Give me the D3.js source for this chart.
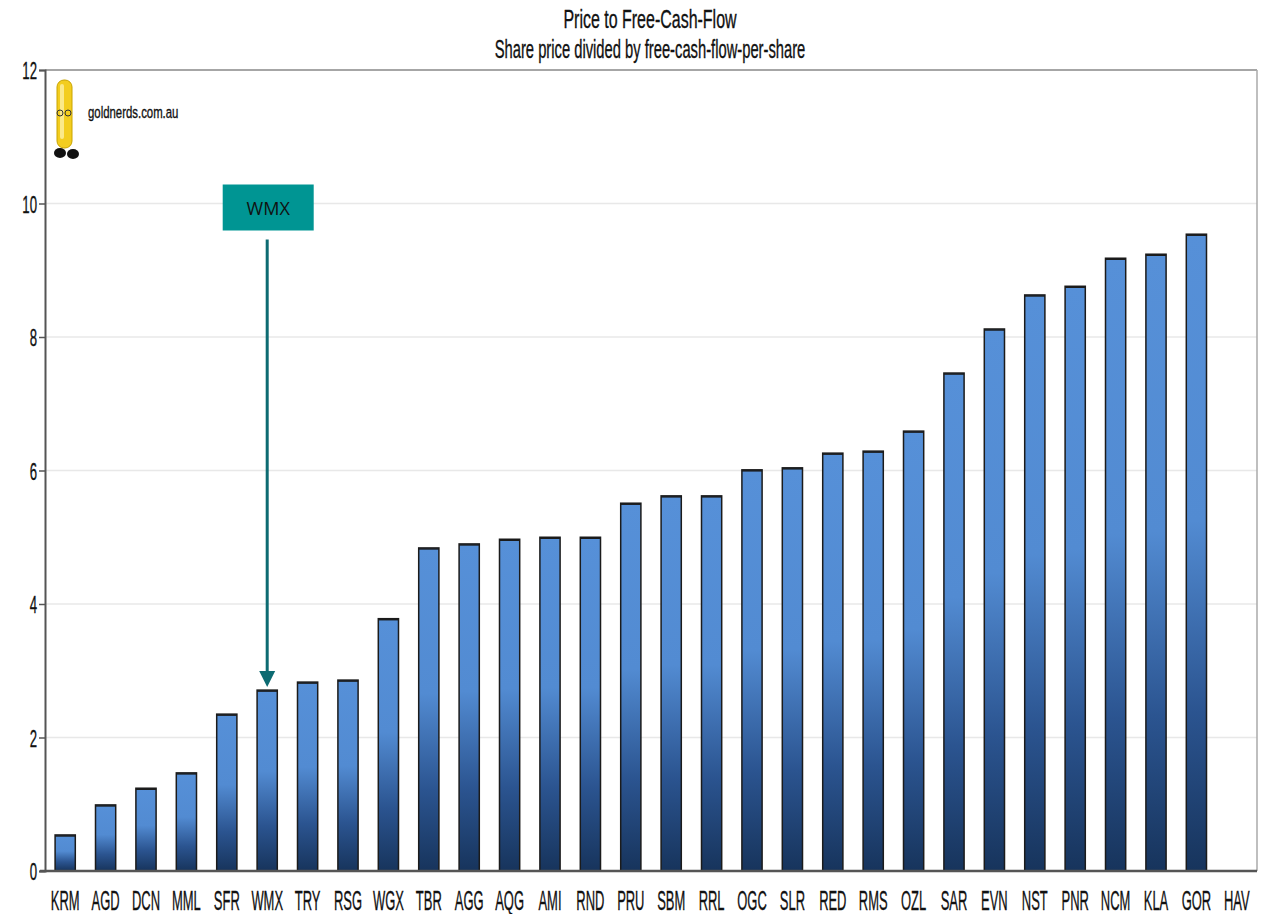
<!DOCTYPE html>
<html>
<head>
<meta charset="utf-8">
<script src="https://cdn.jsdelivr.net/npm/d3@7"></script>
<style>
  body { margin: 0; background: #fff; }
  text { font-family: "Liberation Sans", Arial, sans-serif; }
</style>
</head>
<body>
<div id="chart"></div>
<script>
var tickers = ["KRM","AGD","DCN","MML","SFR","WMX","TRY","RSG","WGX","TBR","AGG","AQG","AMI","RND","PRU",
               "SBM","RRL","OGC","SLR","RED","RMS","OZL","SAR","EVN","NST","PNR","NCM","KLA","GOR","HAV"];
var pfcf = [0.54,0.99,1.24,1.47,2.35,2.71,2.83,2.86,3.78,4.84,4.90,4.97,5.00,5.00,5.51,
            5.62,5.62,6.01,6.04,6.26,6.29,6.59,7.46,8.12,8.63,8.76,9.18,9.24,9.54,0];
var yTicks = [0,2,4,6,8,10,12];
var highlight = "WMX";

var W = 1266, H = 914;
var margin = {top: 70, right: 9, bottom: 43, left: 45};
var width = W - margin.left - margin.right,
    height = H - margin.top - margin.bottom;

var svg = d3.select("#chart").append("svg")
    .attr("width", W).attr("height", H);

var defs = svg.append("defs");
var grad = defs.append("linearGradient").attr("id","barGrad")
    .attr("x1",0).attr("y1",0).attr("x2",0).attr("y2",1);
grad.append("stop").attr("offset","0%").attr("stop-color","#5690d8");
grad.append("stop").attr("offset","45%").attr("stop-color","#528bd2");
grad.append("stop").attr("offset","75%").attr("stop-color","#2b5490");
grad.append("stop").attr("offset","100%").attr("stop-color","#17345c");

// tall, squeezed text to mimic the stretched Arial Narrow of the original
function narrowText(parent, x0, y0, str, size, squeeze, anchor) {
  return parent.append("g").attr("transform","translate(" + x0 + "," + y0 + ") scale(" + squeeze + ",1)")
    .append("text").attr("text-anchor", anchor || "middle")
    .style("font-size", size + "px")
    .style("fill","#111").style("stroke","#111").style("stroke-width",0.35)
    .text(str);
}

// title
narrowText(svg, 650, 28, "Price to Free-Cash-Flow", 25, 0.64);
narrowText(svg, 650, 58, "Share price divided  by free-cash-flow-per-share", 25, 0.59);

var g = svg.append("g").attr("transform","translate(" + margin.left + "," + margin.top + ")");

var x = d3.scaleBand().domain(tickers).range([0, width]).paddingInner(0.5).paddingOuter(0.25);
var y = d3.scaleLinear().domain([0, 12]).range([height, 0]);

// grid
g.selectAll(".grid").data(yTicks.filter(function(d){ return d > 0 && d < 12; }))
  .enter().append("line")
    .attr("x1", 0).attr("x2", width)
    .attr("y1", function(d){ return y(d); }).attr("y2", function(d){ return y(d); })
    .style("stroke","#e8e8e8").style("stroke-width",1.5);

// frame
g.append("line").attr("x1",0).attr("x2",width).attr("y1",0).attr("y2",0)
    .style("stroke","#888").style("stroke-width",1.5);
g.append("line").attr("x1",width).attr("x2",width).attr("y1",0).attr("y2",height)
    .style("stroke","#aaa").style("stroke-width",1.5);

// bars
g.selectAll(".bar").data(tickers)
  .enter().append("rect")
    .attr("x", function(d){ return x(d); })
    .attr("y", function(d,i){ return y(pfcf[i]); })
    .attr("width", x.bandwidth())
    .attr("height", function(d,i){ return height - y(pfcf[i]); })
    .style("fill","url(#barGrad)")
    .style("stroke","#1b1b1b").style("stroke-width",1.5)
    .style("display", function(d,i){ return pfcf[i] > 0 ? null : "none"; });

// bar top edge a bit heavier
g.selectAll(".bartop").data(tickers.filter(function(d,i){ return pfcf[i] > 0; }))
  .enter().append("line")
    .attr("x1", function(d){ return x(d); })
    .attr("x2", function(d){ return x(d) + x.bandwidth(); })
    .attr("y1", function(d){ return y(pfcf[tickers.indexOf(d)]) + 1; })
    .attr("y2", function(d){ return y(pfcf[tickers.indexOf(d)]) + 1; })
    .style("stroke","#1b1b1b").style("stroke-width",1.5);

// y axis
var yAxis = d3.axisLeft(y).tickValues(yTicks).tickSize(6).tickPadding(8);
var ya = g.append("g").call(yAxis);
ya.select(".domain").style("stroke","#555").style("stroke-width",2);
ya.selectAll(".tick line").style("stroke","#555").style("stroke-width",1.5);
ya.selectAll("text").attr("x", null).attr("dy", "0.36em").attr("text-anchor","end")
   .attr("transform","translate(-8,0) scale(0.55,1)")
   .style("font-size","24px").style("fill","#111")
   .style("stroke","#111").style("stroke-width",0.35);

// x axis
var xAxis = d3.axisBottom(x).tickSize(0);
var xa = g.append("g").attr("transform","translate(0," + height + ")").call(xAxis);
xa.select(".domain").remove();
xa.selectAll("text").attr("y", 39).attr("dy", null)
   .attr("transform","scale(0.48,1)")
   .style("font-size","27px").style("fill","#111")
   .style("stroke","#111").style("stroke-width",0.35);
g.append("line").attr("x1",-5).attr("x2",width).attr("y1",height).attr("y2",height)
    .style("stroke","#555").style("stroke-width",2.5);

// WMX callout
var hi = tickers.indexOf(highlight);
var cx = x(highlight) + x.bandwidth() / 2;
var boxW = 91, boxH = 46, boxTop = y(10) - 19;
g.append("rect").attr("x", cx - boxW/2 + 1).attr("y", boxTop)
    .attr("width", boxW).attr("height", boxH).style("fill","#009593");
g.append("text").attr("x", cx + 1).attr("y", boxTop + boxH/2 + 7)
    .attr("text-anchor","middle").style("font-family","'Open Sans', 'DejaVu Sans', sans-serif")
    .style("font-size","18px").style("fill","#111").text(highlight);
var tipY = y(pfcf[hi]) - 3;
g.append("line").attr("x1", cx).attr("x2", cx)
    .attr("y1", boxTop + boxH + 9).attr("y2", tipY - 14)
    .style("stroke","#0d6b72").style("stroke-width",3);
g.append("path")
    .attr("d", "M" + (cx - 8) + "," + (tipY - 16) + "L" + (cx + 8) + "," + (tipY - 16) + "L" + cx + "," + tipY + "Z")
    .style("fill","#0d6b72");

// logo
var logo = svg.append("g").attr("transform","translate(57,80)");
logo.append("ellipse").attr("cx",3).attr("cy",73).attr("rx",6).attr("ry",5).style("fill","#111");
logo.append("ellipse").attr("cx",16).attr("cy",74).attr("rx",6).attr("ry",5).style("fill","#111");
logo.append("rect").attr("x",0).attr("y",0).attr("width",15).attr("height",68).attr("rx",7)
    .style("fill","#f3cd1f").style("stroke","#c9a400").style("stroke-width",1);
logo.append("rect").attr("x",3).attr("y",4).attr("width",4).attr("height",55).attr("rx",2)
    .style("fill","#fbe98a");
logo.append("circle").attr("cx",3).attr("cy",33).attr("r",3).style("fill","none").style("stroke","#333").style("stroke-width",1);
logo.append("circle").attr("cx",11).attr("cy",33).attr("r",3).style("fill","none").style("stroke","#333").style("stroke-width",1);
narrowText(svg, 88, 118, "goldnerds.com.au", 17, 0.67, "start");
</script>
</body>
</html>
